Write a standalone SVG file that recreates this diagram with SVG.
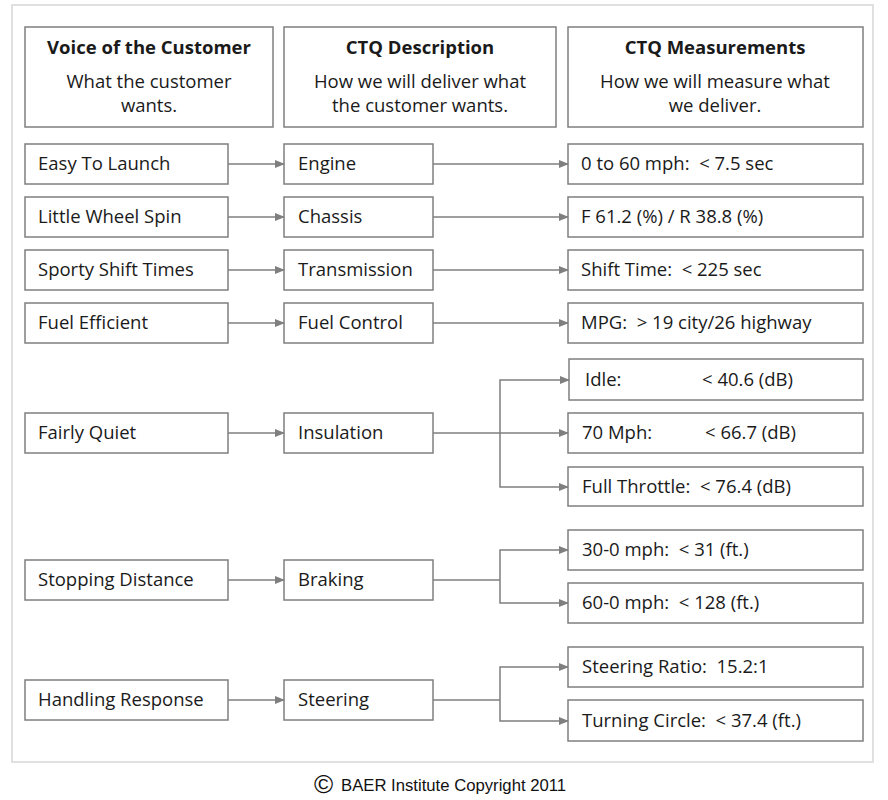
<svg xmlns="http://www.w3.org/2000/svg" width="888" height="800" viewBox="0 0 888 800">
<style>
.box{fill:#fff;stroke:#7f7f7f;stroke-width:1.5}
text{white-space:pre}
.t{font-family:"Open Sans","Noto Sans",sans-serif;font-size:18.5px;fill:#1a1a1a}
.h{font-family:"Open Sans","Noto Sans",sans-serif;font-size:18.5px;font-weight:bold;fill:#1a1a1a;text-anchor:middle}
.s{font-family:"Open Sans","Noto Sans",sans-serif;font-size:18.5px;fill:#1a1a1a;text-anchor:middle}
.c{fill:none;stroke:#7f7f7f;stroke-width:1.5}
</style>
<defs>
<marker id="ah" markerWidth="10" markerHeight="8" refX="9" refY="4" orient="auto" markerUnits="userSpaceOnUse">
<path d="M0,0 L10,4 L0,8 z" fill="#7f7f7f"/>
</marker>
</defs>
<rect x="0" y="0" width="888" height="800" fill="#fff"/>
<rect x="12" y="5" width="861" height="757" fill="#fff" stroke="#e0e0e0" stroke-width="2"/>

<g id="hdr1"><rect class="box" x="25" y="27" width="248" height="100"/>
<text class="h" x="149" y="54">Voice of the Customer</text>
<text class="s" x="149" y="88">What the customer</text>
<text class="s" x="149" y="112">wants.</text></g>
<g id="hdr2"><rect class="box" x="284" y="27" width="272" height="100"/>
<text class="h" x="420" y="54">CTQ Description</text>
<text class="s" x="420" y="88">How we will deliver what</text>
<text class="s" x="420" y="112">the customer wants.</text></g>
<g id="hdr3"><rect class="box" x="568" y="27" width="295" height="100"/>
<text class="h" x="715" y="54">CTQ Measurements</text>
<text class="s" x="715" y="88">How we will measure what</text>
<text class="s" x="715" y="112">we deliver.</text></g>

<g id="v1"><rect class="box" x="25" y="144" width="203" height="40"/><text class="t" x="38" y="170">Easy To Launch</text></g>
<g id="v2"><rect class="box" x="25" y="197" width="203" height="40"/><text class="t" x="38" y="223">Little Wheel Spin</text></g>
<g id="v3"><rect class="box" x="25" y="250" width="203" height="40"/><text class="t" x="38" y="276">Sporty Shift Times</text></g>
<g id="v4"><rect class="box" x="25" y="303" width="203" height="40"/><text class="t" x="38" y="329">Fuel Efficient</text></g>
<g id="v5"><rect class="box" x="25" y="413" width="203" height="40"/><text class="t" x="38" y="439">Fairly Quiet</text></g>
<g id="v6"><rect class="box" x="25" y="560" width="203" height="40"/><text class="t" x="38" y="586">Stopping Distance</text></g>
<g id="v7"><rect class="box" x="25" y="680" width="203" height="40"/><text class="t" x="38" y="706">Handling Response</text></g>

<g id="d1"><rect class="box" x="284" y="144" width="149" height="40"/><text class="t" x="298" y="170">Engine</text></g>
<g id="d2"><rect class="box" x="284" y="197" width="149" height="40"/><text class="t" x="298" y="223">Chassis</text></g>
<g id="d3"><rect class="box" x="284" y="250" width="149" height="40"/><text class="t" x="298" y="276">Transmission</text></g>
<g id="d4"><rect class="box" x="284" y="303" width="149" height="40"/><text class="t" x="298" y="329">Fuel Control</text></g>
<g id="d5"><rect class="box" x="284" y="413" width="149" height="40"/><text class="t" x="298" y="439">Insulation</text></g>
<g id="d6"><rect class="box" x="284" y="560" width="149" height="40"/><text class="t" x="298" y="586">Braking</text></g>
<g id="d7"><rect class="box" x="284" y="680" width="149" height="40"/><text class="t" x="298" y="706">Steering</text></g>

<g id="m1"><rect class="box" x="568" y="144" width="295" height="40"/><text class="t" x="581" y="170">0 to 60 mph:  &lt; 7.5 sec</text></g>
<g id="m2"><rect class="box" x="568" y="197" width="295" height="40"/><text class="t" x="581" y="223">F 61.2 (%) / R 38.8 (%)</text></g>
<g id="m3"><rect class="box" x="568" y="250" width="295" height="40"/><text class="t" x="581" y="276">Shift Time:  &lt; 225 sec</text></g>
<g id="m4"><rect class="box" x="568" y="303" width="295" height="40"/><text class="t" x="581" y="329">MPG:  &gt; 19 city/26 highway</text></g>
<g id="m5"><rect class="box" x="569" y="359" width="294" height="41"/><text class="t" x="585" y="386">Idle:</text><text class="t" x="702" y="386">&lt; 40.6 (dB)</text></g>
<g id="m6"><rect class="box" x="568" y="413" width="295" height="40"/><text class="t" x="582" y="439">70 Mph:</text><text class="t" x="705" y="439">&lt; 66.7 (dB)</text></g>
<g id="m7"><rect class="box" x="568" y="467" width="295" height="39"/><text class="t" x="582" y="493">Full Throttle:  &lt; 76.4 (dB)</text></g>
<g id="m8"><rect class="box" x="568" y="530" width="295" height="40"/><text class="t" x="582" y="556">30-0 mph:  &lt; 31 (ft.)</text></g>
<g id="m9"><rect class="box" x="568" y="583" width="295" height="40"/><text class="t" x="582" y="609">60-0 mph:  &lt; 128 (ft.)</text></g>
<g id="m10"><rect class="box" x="568" y="647" width="295" height="40"/><text class="t" x="582" y="673">Steering Ratio:  15.2:1</text></g>
<g id="m11"><rect class="box" x="568" y="700" width="295" height="41"/><text class="t" x="582" y="727">Turning Circle:  &lt; 37.4 (ft.)</text></g>

<g id="connectors">
<path class="c" marker-end="url(#ah)" d="M228,164 H284"/>
<path class="c" marker-end="url(#ah)" d="M228,217 H284"/>
<path class="c" marker-end="url(#ah)" d="M228,270 H284"/>
<path class="c" marker-end="url(#ah)" d="M228,323 H284"/>
<path class="c" marker-end="url(#ah)" d="M228,433 H284"/>
<path class="c" marker-end="url(#ah)" d="M228,580 H284"/>
<path class="c" marker-end="url(#ah)" d="M228,700 H284"/>
<path class="c" marker-end="url(#ah)" d="M433,164 H568"/>
<path class="c" marker-end="url(#ah)" d="M433,217 H568"/>
<path class="c" marker-end="url(#ah)" d="M433,270 H568"/>
<path class="c" marker-end="url(#ah)" d="M433,323 H568"/>
<path class="c" marker-end="url(#ah)" d="M433,433 H568"/>
<path class="c" marker-end="url(#ah)" d="M500,433 V380 H569"/>
<path class="c" marker-end="url(#ah)" d="M500,433 V487 H568"/>
<path class="c" d="M433,580 H500"/>
<path class="c" marker-end="url(#ah)" d="M500,580 V550 H568"/>
<path class="c" marker-end="url(#ah)" d="M500,580 V603 H568"/>
<path class="c" d="M433,700 H500"/>
<path class="c" marker-end="url(#ah)" d="M500,700 V667 H568"/>
<path class="c" marker-end="url(#ah)" d="M500,700 V721 H568"/>
</g>

<g id="copyright">
<text x="314" y="793" font-family="Liberation Sans, Arial, sans-serif" font-size="26" fill="#111">©</text>
<text x="341" y="791" font-family="Liberation Sans, Arial, sans-serif" font-size="16.7" fill="#111">BAER Institute Copyright 2011</text>
</g>
</svg>
